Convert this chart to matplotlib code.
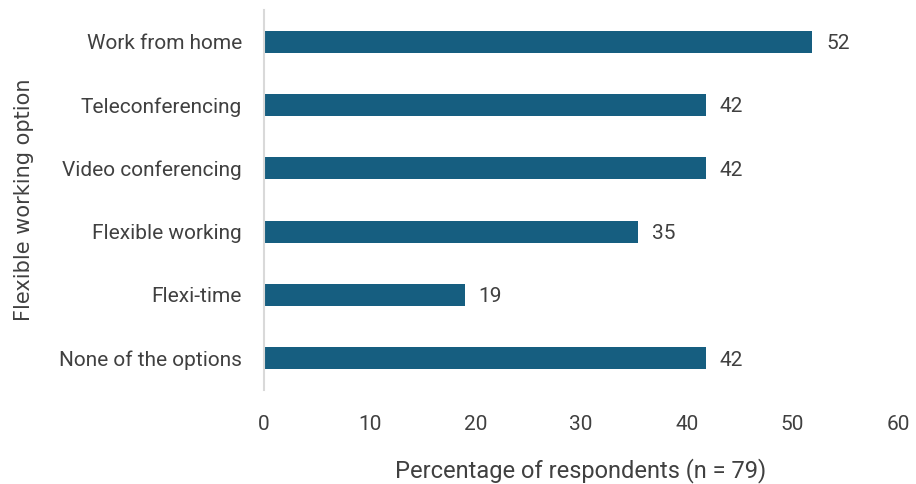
import matplotlib as mpl
import matplotlib.pyplot as plt

mpl.rc('font', family=['Roboto', 'DejaVu Sans'], size=15)

options = ['Work from home', 'Teleconferencing', 'Video conferencing',
           'Flexible working', 'Flexi-time', 'None of the options']
percent = [51.9, 41.8, 41.8, 35.4, 19.0, 41.8]
labels = ['52', '42', '42', '35', '19', '42']

fig = plt.figure(figsize=(9.16, 4.84), dpi=100)
ax = fig.add_axes([264 / 916, 1 - 390 / 484, (898 - 264) / 916, 380 / 484])

ypos = range(len(options))
ax.barh(ypos, percent, height=0.35, color='#165E80')
for y, v, t in zip(ypos, percent, labels):
    ax.text(v + 1.3, y + 0.03, t, va='center', ha='left', color='#404040', fontsize=15)

ax.set_xlim(0, 60)
ax.set_ylim(5.5, -0.5)
ax.set_yticks(list(ypos))
ax.set_yticklabels(options, color='#404040')
ax.set_xticks(range(0, 61, 10))
ax.tick_params(axis='x', length=0, pad=18, colors='#404040')
ax.tick_params(axis='y', length=0, pad=16, colors='#404040')
for s in ['top', 'right', 'bottom']:
    ax.spines[s].set_visible(False)
ax.spines['left'].set_color('#D9D9D9')
ax.spines['left'].set_linewidth(1.5)

ax.set_xlabel('Percentage of respondents (n = 79)', color='#404040',
              fontsize=17, labelpad=17)
ax.set_ylabel('Flexible working option', color='#404040', fontsize=15,
              family=['DejaVu Sans'])
ax.yaxis.set_label_coords(-264 / 634 + 34 / 634, 0.5)

fig.savefig('out.png', dpi=100)
